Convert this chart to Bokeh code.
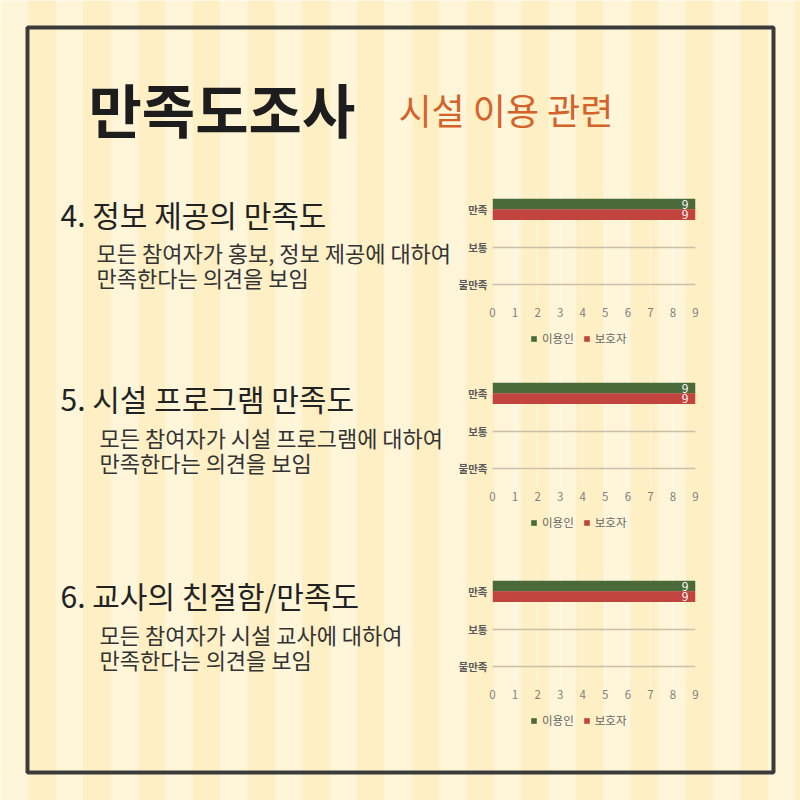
import numpy as np
from bokeh.plotting import figure
from bokeh.models import Range1d, FactorRange, ColumnDataSource, Legend, FixedTicker
from bokeh.transform import dodge
from bokeh.layouts import column
from bokeh.embed import file_html
from bokeh.resources import INLINE
from bokeh.core.properties import value

FONT = "Noto Sans CJK KR"

# ---------------- data ----------------
title_text = "만족도조사"
subtitle_text = "시설 이용 관련"
section_titles = ["4. 정보 제공의 만족도", "5. 시설 프로그램 만족도", "6. 교사의 친절함/만족도"]
section_line1 = ["모든 참여자가 홍보, 정보 제공에 대하여",
                 "모든 참여자가 시설 프로그램에 대하여",
                 "모든 참여자가 시설 교사에 대하여"]
section_line2 = ["만족한다는 의견을 보임", "만족한다는 의견을 보임", "만족한다는 의견을 보임"]
categories = ["불만족", "보통", "만족"]
series_names = ["이용인", "보호자"]
x_ticks = [0, 1, 2, 3, 4, 5, 6, 7, 8, 9]
users_q4 = [0, 0, 9]
guardians_q4 = [0, 0, 9]
users_q5 = [0, 0, 9]
guardians_q5 = [0, 0, 9]
users_q6 = [0, 0, 9]
guardians_q6 = [0, 0, 9]

GREEN = "#4A6A3A"
RED = "#C1443F"
BG_LIGHT = "#FFF6DA"
BG_DARK = "#FEEFC5"

# ---------------- main canvas ----------------
main = figure(width=800, height=800, x_range=Range1d(0, 800), y_range=Range1d(800, 0),
              output_backend="svg", toolbar_location=None, min_border=0,
              x_axis_location=None, y_axis_location=None,
              outline_line_color=None, background_fill_color=BG_LIGHT,
              border_fill_color=BG_LIGHT)
main.frame_align = False
main.grid.visible = False

lefts = 28 + np.arange(15) * 54.75
main.quad(left=lefts, right=lefts + 27.4, top=0, bottom=800,
          fill_color=BG_DARK, line_color=None)
main.quad(left=[27], right=[773], top=[27], bottom=[772], fill_color=None,
          line_color="#3b3b3b", line_width=4)

main.text(x=[88], y=[107], text=[title_text], text_font=value(FONT), text_font_size="58px",
          text_font_style="bold", text_color="#1d1d1d", text_baseline="middle")
main.text(x=[398], y=[108], text=[subtitle_text], text_font=value(FONT), text_font_size="36px",
          text_color="#D4632A", text_baseline="middle")

main.text(x=[60, 60, 60], y=[213, 397, 594], text=section_titles, text_font=value(FONT),
          text_font_size="30px", text_color="#222222", text_baseline="middle")
main.text(x=[96, 99, 99], y=[251, 436, 633], text=section_line1, text_font=value(FONT),
          text_font_size="22px", text_color="#333333", text_baseline="middle")
main.text(x=[96, 99, 99], y=[276, 461, 658], text=section_line2, text_font=value(FONT),
          text_font_size="22px", text_color="#333333", text_baseline="middle")


def make_chart(users, guardians):
    src = ColumnDataSource(dict(cat=categories, users=users, guardians=guardians))
    p = figure(frame_width=203, frame_height=113, y_range=FactorRange(*categories),
               x_range=Range1d(0, 9), output_backend="svg", toolbar_location=None,
               min_border_left=42, min_border_right=10, min_border_top=5,
               min_border_bottom=22, background_fill_alpha=0, border_fill_alpha=0,
               outline_line_color=None)
    p.frame_align = False
    p.hbar(y=dodge("cat", 0.14, range=p.y_range), left=0, right="users", height=0.28,
           fill_color=GREEN, line_color=None, source=src)
    p.hbar(y=dodge("cat", -0.14, range=p.y_range), left=0, right="guardians", height=0.28,
           fill_color=RED, line_color=None, source=src)

    for vals, off in ((users, 0.14), (guardians, -0.14)):
        lab = ColumnDataSource(dict(
            cat=[c for c, v in zip(categories, vals) if v > 0],
            x=[v for v in vals if v > 0],
            t=[str(v) for v in vals if v > 0]))
        p.text(x="x", y=dodge("cat", off, range=p.y_range), text="t", source=lab,
               text_align="right", text_baseline="middle", x_offset=-7,
               text_color="white", text_font_size="12px", text_font=value(FONT))

    p.xaxis.ticker = FixedTicker(ticks=x_ticks)
    p.xaxis.axis_line_color = None
    p.xaxis.major_tick_line_color = None
    p.xaxis.major_tick_out = 0
    p.xaxis.minor_tick_line_color = None
    p.xaxis.minor_tick_out = 0
    p.xaxis.major_label_text_font_size = "11.5px"
    p.xaxis.major_label_text_color = "#7f7f7f"
    p.xaxis.major_label_text_font = FONT
    p.xaxis.major_label_standoff = 4

    p.yaxis.axis_line_color = None
    p.yaxis.major_tick_line_color = None
    p.yaxis.major_tick_out = 0
    p.yaxis.major_label_text_font_size = "10.5px"
    p.yaxis.major_label_text_color = "#595959"
    p.yaxis.major_label_text_font = FONT
    p.yaxis.major_label_text_font_style = "bold"
    p.yaxis.major_label_standoff = 5

    p.ygrid.grid_line_color = "#C9C0A9"
    p.ygrid.grid_line_width = 1.3
    p.xgrid.grid_line_color = "#FFFFFF"
    p.xgrid.grid_line_alpha = 0.6
    return p, src


def make_legend(src):
    # legend panel for a chart: same series, drawn outside its (empty) view
    lg = figure(width=110, height=22, x_range=Range1d(-20, -10), y_range=FactorRange(*categories),
                output_backend="svg", toolbar_location=None, min_border=0,
                x_axis_location=None, y_axis_location=None, outline_line_color=None,
                background_fill_alpha=0, border_fill_alpha=0)
    lg.frame_align = False
    lg.grid.visible = False
    g1 = lg.hbar(y="cat", left=0, right="users", height=0.28, fill_color=GREEN,
                 line_color=None, source=src)
    g2 = lg.hbar(y="cat", left=0, right="guardians", height=0.28, fill_color=RED,
                 line_color=None, source=src)
    legend = Legend(items=[(series_names[0], [g1]), (series_names[1], [g2])],
                    orientation="horizontal", location="top_left",
                    label_text_font_size="11.5px", label_text_color="#666666",
                    label_text_font=FONT, label_height=12, label_width=10,
                    glyph_width=7, glyph_height=7, label_standoff=5, spacing=9,
                    padding=4, margin=0, border_line_color=None,
                    background_fill_alpha=0)
    lg.add_layout(legend, "center")
    return lg


c1, s1 = make_chart(users_q4, guardians_q4)
c2, s2 = make_chart(users_q5, guardians_q5)
c3, s3 = make_chart(users_q6, guardians_q6)
l1, l2, l3 = make_legend(s1), make_legend(s2), make_legend(s3)
for c, top in ((c1, 185), (c2, 369), (c3, 567)):
    c.styles = {"position": "absolute", "left": "450px", "top": f"{top}px"}
for lg, top in ((l1, 330), (l2, 514), (l3, 712)):
    lg.styles = {"position": "absolute", "left": "530px", "top": f"{top}px"}

layout = column(main, c1, c2, c3, l1, l2, l3, spacing=0, width=800, height=800)
layout.styles = {"position": "relative"}

open("out.html", "w").write(file_html(layout, INLINE))
